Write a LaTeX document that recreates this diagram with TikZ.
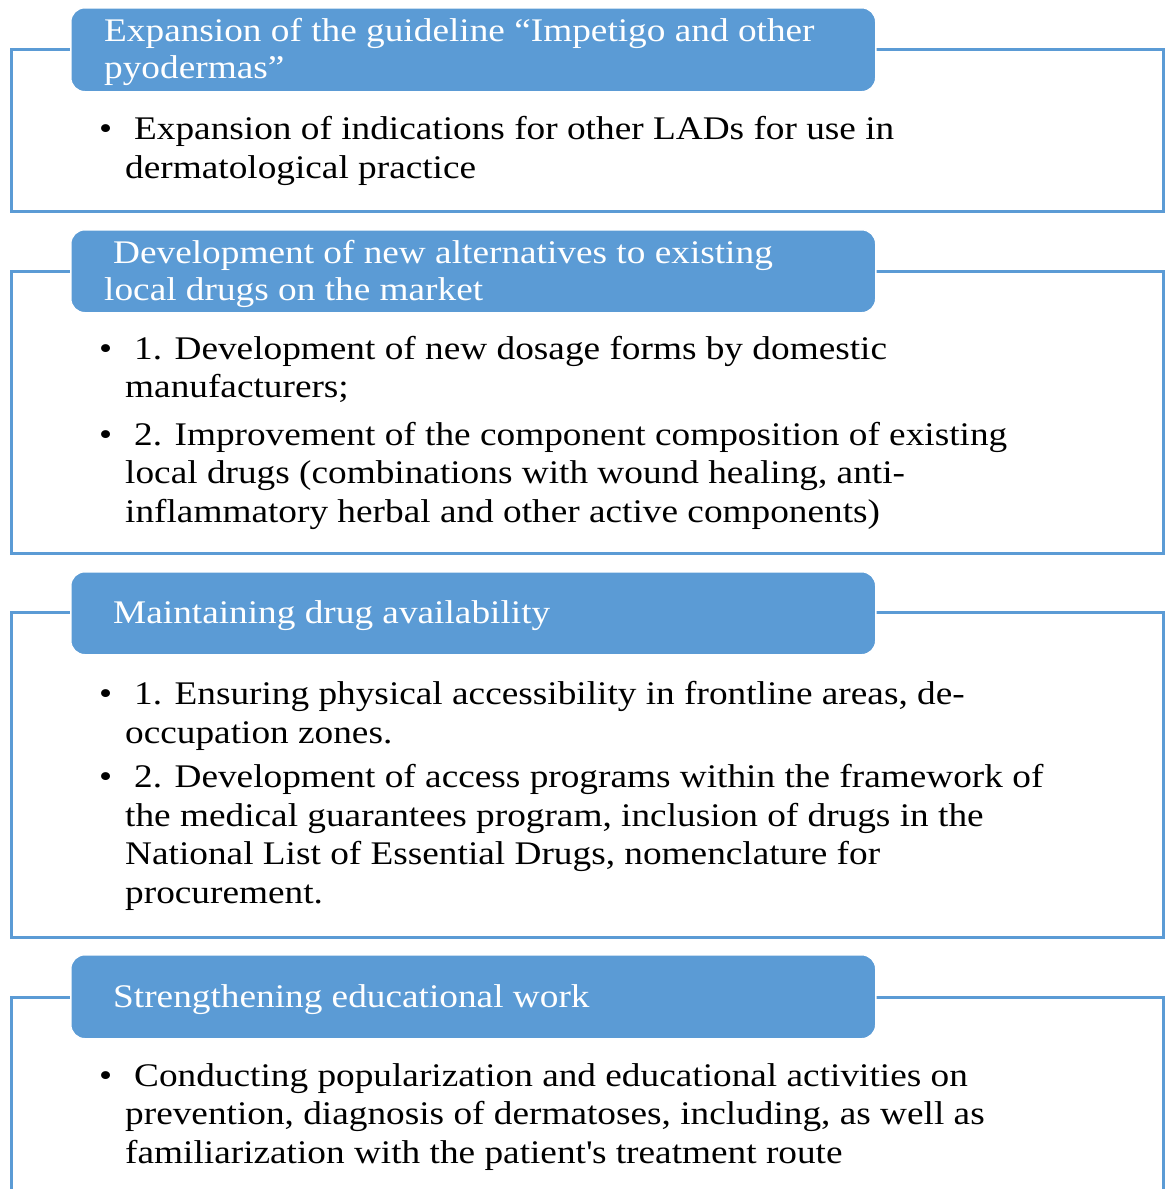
\documentclass[tikz,border=0pt]{standalone}
\usepackage{fontspec}
\setmainfont{Liberation Serif}[FakeStretch=1.13]
\usetikzlibrary{positioning}
\definecolor{accent}{HTML}{5B9BD5}
\tikzset{
  frame/.style={draw=accent, line width=3pt},
  head/.style={fill=accent, draw=white, line width=1.5pt, rounded corners=14pt,
    anchor=north west, minimum width=805pt},
  headtext/.style={anchor=base west, inner sep=0pt, align=left, text=white,
    font=\fontsize{33}{37}\selectfont},
  bodytext/.style={anchor=base west, inner sep=0pt, align=left,
    font=\fontsize{33}{38.5}\selectfont}
}
\newcommand{\itm}{\llap{\textbullet\hspace*{13pt}}\hspace*{9pt}}

\begin{document}
\begin{tikzpicture}[x=1pt, y=-1pt]
  \useasboundingbox (0,0) rectangle (1170,1189);
  \clip (0,0) rectangle (1170,1189);

  % outer frames
  \draw[frame] (11,49) rectangle (1163,211);
  \draw[frame] (11,271) rectangle (1163,553);
  \draw[frame] (11,612) rectangle (1163,937);
  \draw[frame] (11,997) rectangle (1163,1230);

  % headers (text placed by the baseline of its last line)
  \node[head, minimum height=84pt] (h1) at (70,7) {};
  \node[headtext] (t1) at (104,78) {Expansion of the guideline “Impetigo and other\\pyodermas”};
  \node[head, minimum height=83pt] (h2) at (70,229) {};
  \node[headtext] (t2) at (104,300) {\hspace*{9pt}Development of new alternatives to existing\\local drugs on the market};
  \node[head, minimum height=83pt] (h3) at (70,571) {};
  \node[headtext] (t3) at (104,623) {\hspace*{9pt}Maintaining drug availability};
  \node[head, minimum height=84pt] (h4) at (70,954) {};
  \node[headtext] (t4) at (104,1007) {\hspace*{9pt}Strengthening educational work};

  % bullet texts
  \node[bodytext] (b1) at (125,178) {\itm Expansion of indications for other LADs for use in\\
    dermatological practice};
  \node[bodytext] (b2) at (125,522) {\itm 1. Development of new dosage forms by domestic\\
    manufacturers;\\[9pt]
    \itm 2. Improvement of the component composition of existing\\
    local drugs (combinations with wound healing, anti-\\
    inflammatory herbal and other active components)};
  \node[bodytext] (b3) at (125,903) {\itm 1. Ensuring physical accessibility in frontline areas, de-\\
    occupation zones.\\[6pt]
    \itm 2. Development of access programs within the framework of\\
    the medical guarantees program, inclusion of drugs in the\\
    National List of Essential Drugs, nomenclature for\\
    procurement.};
  \node[bodytext] (b4) at (125,1163) {\itm Conducting popularization and educational activities on\\
    prevention, diagnosis of dermatoses, including, as well as\\
    familiarization with the patient\textquotesingle s treatment route};
\end{tikzpicture}
\end{document}
